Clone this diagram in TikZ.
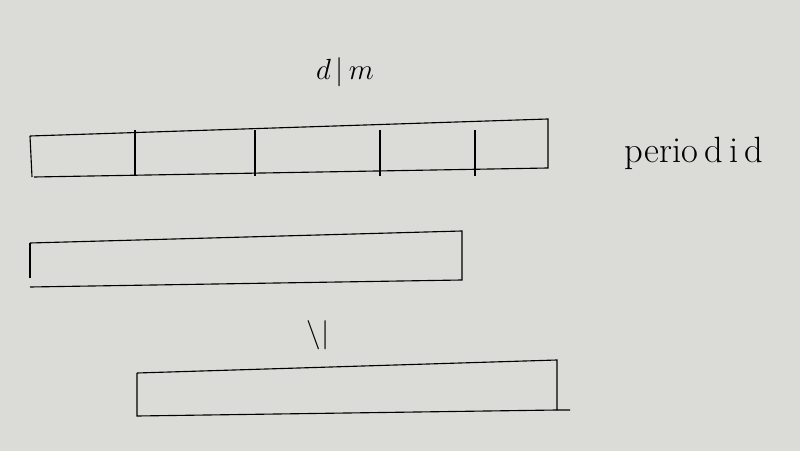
\documentclass[tikz,border=0pt]{standalone}
\usepackage{xcolor}
\usepackage{amsmath, amssymb}
\usepackage{tikz}
\usetikzlibrary{calc}

\definecolor{paper}{RGB}{219,219,215}

\begin{document}
\begin{tikzpicture}[x=0.025cm, y=-0.025cm, line width=0.8pt,
    lbl/.style={font=\fontsize{22}{26}\selectfont}]
    \fill[paper] (0,0) rectangle (800,451);
    \useasboundingbox (0,0) rectangle (800,451);
    % top bar, cut into pieces
    \draw (30,136) -- (548,119) -- (548,168) -- (34,177);
    \draw (30,136) -- (32,177);
    \foreach \xx in {135,255,380,475}
        \draw (\xx,130) -- (\xx,176);
    \node[lbl] (dm) at (345,72) {$d\,|\,m$};
    \node[lbl, font=\fontsize{26}{30}\selectfont] (per) at (694,153) {perio\,d\,i\,d};
    % middle bar
    \draw (30,243) -- (462,231) -- (462,280) -- (30,287);
    \draw (30,243) -- (30,278);
    % bottom bar
    \node[lbl] (sub) at (318,335) {$\backslash|$};
    \draw (137,373) -- (557,360) -- (557,410) -- (570,410);
    \draw (137,373) -- (137,416) -- (557,410);
\end{tikzpicture}
\end{document}
